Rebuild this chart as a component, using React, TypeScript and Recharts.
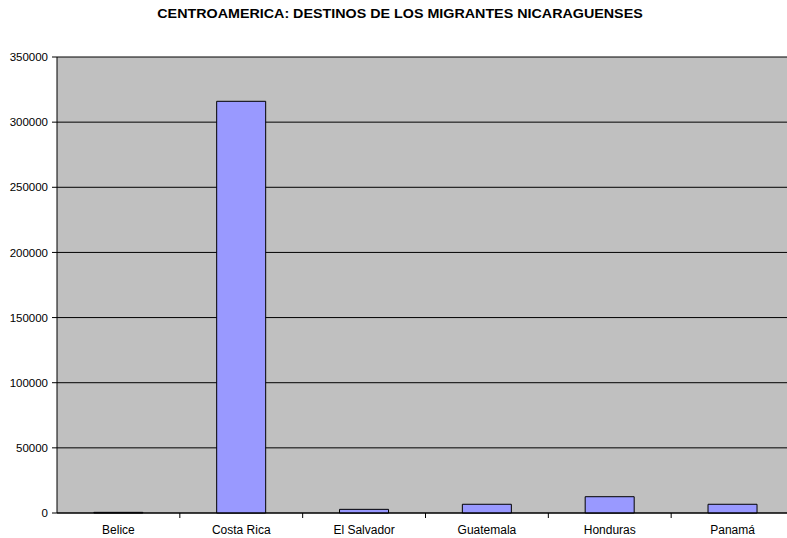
import { BarChart, Bar, XAxis, YAxis, CartesianGrid } from 'recharts';

const categories = ['Belice', 'Costa Rica', 'El Salvador', 'Guatemala', 'Honduras', 'Panamá'];
const migrants = [500, 316000, 2800, 6700, 12500, 6700];
const yTicks = [0, 50000, 100000, 150000, 200000, 250000, 300000, 350000];

const CHART_W = 800;
const CHART_H = 538;
const MARGIN = { top: 57, right: 6, left: 0, bottom: 0 };
const Y_AXIS_W = 57;
const FONT = 'Arial, "Liberation Sans", sans-serif';

const chartData = categories.map((name, i) => ({ name, value: migrants[i] }));

const band = (CHART_W - MARGIN.left - MARGIN.right - Y_AXIS_W) / categories.length;

// Excel puts category tick marks on the boundaries, not under the bar
function CategoryTick(props: any) {
  const { x, y, payload } = props;
  return (
    <g>
      <line x1={x + band / 2} x2={x + band / 2} y1={y} y2={y + 5} stroke="#000" />
      <text x={x} y={y + 21} textAnchor="middle" fontSize={12} fontFamily={FONT} fill="#000">
        {payload.value}
      </text>
    </g>
  );
}

export default function App() {
  return (
    <div
      style={{
        position: 'absolute',
        left: 0,
        top: 0,
        width: 787,
        height: 538,
        overflow: 'hidden',
        background: '#fff',
      }}
    >
      <div
        style={{
          position: 'absolute',
          top: 6,
          left: 0,
          width: CHART_W,
          textAlign: 'center',
          fontFamily: FONT,
          fontWeight: 'bold',
          fontSize: 13,
          color: '#000',
          transform: 'scaleX(1.1)',
          transformOrigin: '400px 0',
        }}
      >
        CENTROAMERICA: DESTINOS DE LOS MIGRANTES NICARAGUENSES
      </div>
      <BarChart
        width={CHART_W}
        height={CHART_H}
        data={chartData}
        margin={MARGIN}
        barCategoryGap="30%"
      >
        <CartesianGrid fill="#c0c0c0" stroke="#000" vertical={false} />
        <XAxis
          dataKey="name"
          height={25}
          tickLine={false}
          tickSize={0}
          tickMargin={0}
          axisLine={{ stroke: '#000' }}
          tick={<CategoryTick />}
          interval={0}
        />
        <YAxis
          width={Y_AXIS_W}
          domain={[0, 350000]}
          ticks={yTicks}
          interval={0}
          axisLine={{ stroke: '#000' }}
          tickLine={{ stroke: '#000' }}
          tickSize={5}
          tickMargin={4}
          tick={{ fill: '#000', fontSize: 11.5, fontFamily: FONT }}
        />
        <Bar dataKey="value" fill="#9999ff" stroke="#000" strokeWidth={1} isAnimationActive={false} />
      </BarChart>
    </div>
  );
}
